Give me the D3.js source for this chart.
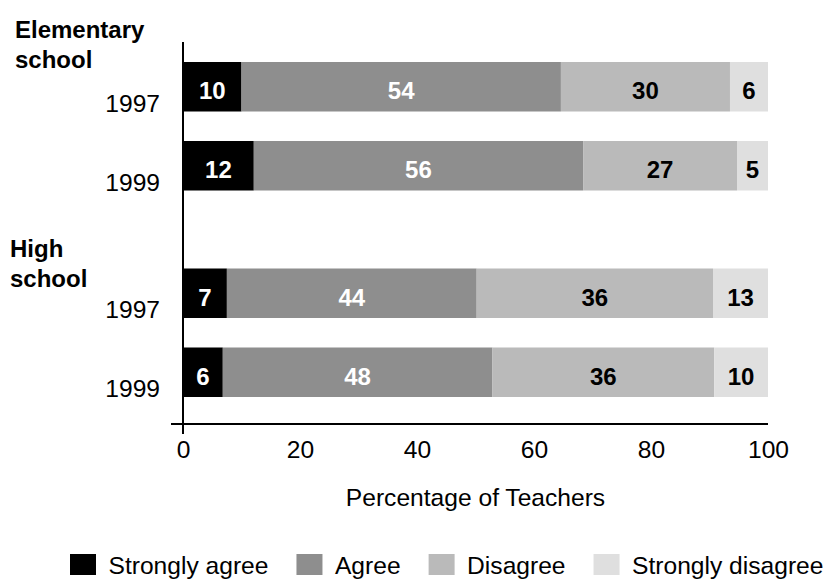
<!DOCTYPE html>
<html>
<head>
<meta charset="utf-8">
<script src="https://cdn.jsdelivr.net/npm/d3@7"></script>
<style>
  html, body { margin: 0; padding: 0; background: #fff; }
  svg { display: block; font-family: "Liberation Sans", Arial, Helvetica, sans-serif; }
</style>
</head>
<body>
<svg id="chart" width="836" height="583"></svg>
<script>
// ---- data ----
const groups = ["Elementary school", "High school"];
const years = ["1997", "1999"];
const seriesNames = ["Strongly agree", "Agree", "Disagree", "Strongly disagree"];
// segment lengths as drawn (percent), rows: Elem 1997, Elem 1999, HS 1997, HS 1999
const stronglyAgree    = [10.0, 12.1, 7.5, 6.8];
const agree            = [54.6, 56.3, 42.7, 46.1];
const disagree         = [28.9, 26.3, 40.4, 37.9];
const stronglyDisagree = [6.5, 5.3, 9.4, 9.2];
// printed labels
const stronglyAgreeLabels    = [10, 12, 7, 6];
const agreeLabels            = [54, 56, 44, 48];
const disagreeLabels         = [30, 27, 36, 36];
const stronglyDisagreeLabels = [6, 5, 13, 10];
const xTicks = [0, 20, 40, 60, 80, 100];
const xTitle = "Percentage of Teachers";

// ---- styles / layout ----
const colors = ["#000000", "#8e8e8e", "#bababa", "#dfdfdf"];
const labelColors = ["#ffffff", "#ffffff", "#000000", "#000000"];
const groupLabelLayout = [{x: 15, dy: -24}, {x: 10, dy: -11}];
const fs = 24.6;

const svg = d3.select("#chart");
const x = d3.scaleLinear().domain([0, 100]).range([183, 768]);
const gy = d3.scaleBand().domain(groups).range([62, 397]).paddingInner(0.3777);
const ry = d3.scaleBand().domain(years).range([0, gy.bandwidth()]).paddingInner(0.3734);

const seriesVals = [stronglyAgree, agree, disagree, stronglyDisagree];
const seriesLabels = [stronglyAgreeLabels, agreeLabels, disagreeLabels, stronglyDisagreeLabels];

const rows = [];
groups.forEach((g, gi) => years.forEach((yr, yi) => {
  const idx = gi * years.length + yi;
  let cum = 0;
  const segs = seriesVals.map((arr, si) => {
    const s = {si, x0: cum, x1: cum + arr[idx], label: seriesLabels[si][idx]};
    cum += arr[idx];
    return s;
  });
  rows.push({group: g, year: yr, top: gy(g) + ry(yr), segs});
}));

const bh = ry.bandwidth();
const rowG = svg.append("g").selectAll("g").data(rows).join("g");

rowG.selectAll("rect").data(d => d.segs.map(s => ({...s, top: d.top}))).join("rect")
  .attr("x", d => x(d.x0))
  .attr("y", d => d.top)
  .attr("width", d => x(d.x1) - x(d.x0))
  .attr("height", bh)
  .attr("fill", d => colors[d.si]);

rowG.selectAll("text.val").data(d => d.segs.map(s => ({...s, top: d.top}))).join("text")
  .attr("class", "val")
  .attr("x", d => (x(d.x0) + x(d.x1)) / 2)
  .attr("y", d => d.top + bh / 2 + 12.5)
  .attr("text-anchor", "middle")
  .attr("font-size", 24)
  .attr("font-weight", "bold")
  .attr("fill", d => labelColors[d.si])
  .text(d => d.label);

// year labels
svg.append("g").selectAll("text").data(rows).join("text")
  .attr("x", 160)
  .attr("y", d => d.top + bh)
  .attr("text-anchor", "end")
  .attr("font-size", fs)
  .attr("fill", "#000")
  .text(d => d.year);

// group labels
groups.forEach((g, gi) => {
  const t = svg.append("text")
    .attr("x", groupLabelLayout[gi].x)
    .attr("y", gy(g) + groupLabelLayout[gi].dy)
    .attr("font-size", 24)
    .attr("font-weight", "bold")
    .attr("fill", "#000");
  const parts = g.split(" ");
  t.append("tspan").attr("x", groupLabelLayout[gi].x).text(parts[0]);
  t.append("tspan").attr("x", groupLabelLayout[gi].x).attr("dy", 30).text(parts.slice(1).join(" "));
});

// axes
const xAxis = d3.axisBottom(x).tickValues(xTicks).tickSize(0).tickPadding(17);
const gx = svg.append("g").attr("transform", "translate(0,424)").call(xAxis);
gx.select(".domain").remove();
gx.selectAll("text").attr("font-size", fs).attr("font-family", null).attr("fill", "#000");

svg.append("line")
  .attr("x1", x(0) - 12).attr("x2", x(100))
  .attr("y1", 424).attr("y2", 424)
  .attr("stroke", "#000").attr("stroke-width", 2);
svg.append("line")
  .attr("x1", x(0)).attr("x2", x(0))
  .attr("y1", 42).attr("y2", 434)
  .attr("stroke", "#000").attr("stroke-width", 2);

svg.append("text")
  .attr("x", (x(0) + x(100)) / 2)
  .attr("y", 506)
  .attr("text-anchor", "middle")
  .attr("font-size", fs)
  .attr("fill", "#000")
  .text(xTitle);

// legend
const leg = svg.append("g");
let lx = 70;
seriesNames.forEach((name, i) => {
  leg.append("rect")
    .attr("x", lx).attr("y", 554)
    .attr("width", 26).attr("height", 21)
    .attr("fill", colors[i]);
  const t = leg.append("text")
    .attr("x", lx + 26 + 12.5)
    .attr("y", 574)
    .attr("font-size", fs)
    .attr("fill", "#000")
    .text(name);
  lx = lx + 26 + 12.5 + t.node().getComputedTextLength() + 28;
});
</script>
</body>
</html>
